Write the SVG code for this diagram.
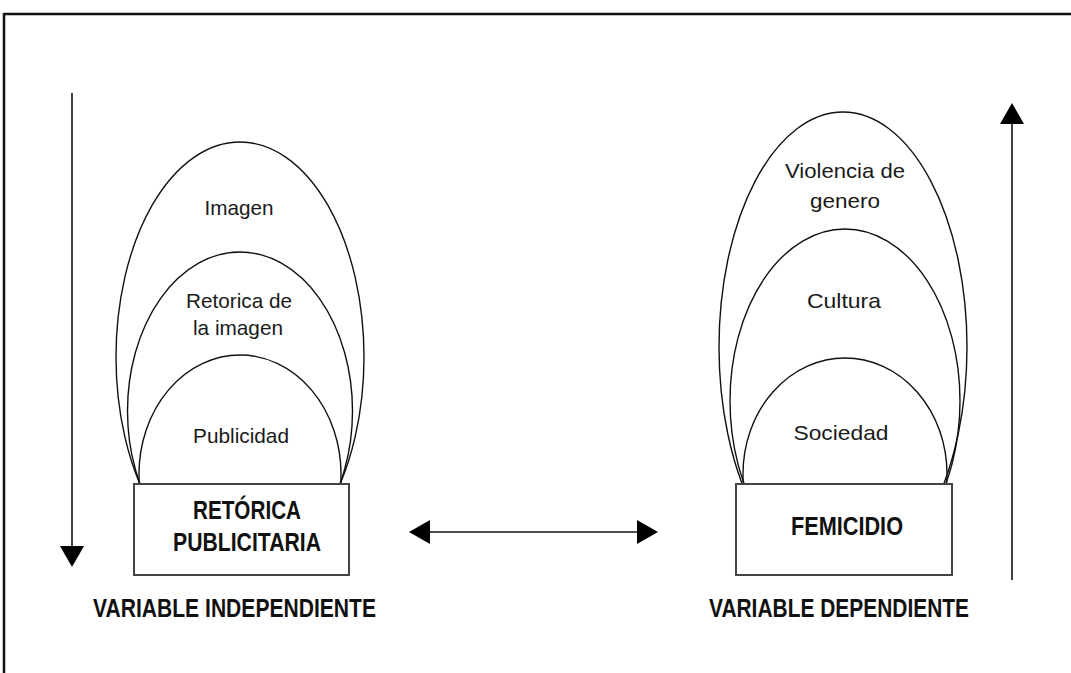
<svg xmlns="http://www.w3.org/2000/svg" width="1071" height="673" viewBox="0 0 1071 673">
<style>
.frame{fill:none;stroke:#111;stroke-width:2.5}
.arch{fill:none;stroke:#111;stroke-width:1.4}
.box{fill:#fff;stroke:#444;stroke-width:2}
.lbl{font-family:"Liberation Sans",Arial,sans-serif;font-size:21px;fill:#1a1a1a;text-anchor:middle}
.bold{font-family:"Liberation Sans",Arial,sans-serif;font-size:26px;font-weight:bold;fill:#111;text-anchor:middle}
.conn{fill:none;stroke:#111;stroke-width:1.6}
</style>
<defs>
<clipPath id="clipTop"><rect x="0" y="0" width="1071" height="484"/></clipPath>
<marker id="tri" viewBox="0 0 21 24" refX="0" refY="12" markerWidth="21" markerHeight="24" markerUnits="userSpaceOnUse" orient="auto-start-reverse">
<path d="M0,0 L21,12 L0,24 Z" fill="#000"/>
</marker>
</defs>
<rect width="1071" height="673" fill="#fff"/>
<g id="frame">
<line class="frame" x1="4" y1="14" x2="1071" y2="14"/>
<line class="frame" x1="4" y1="13" x2="4" y2="673"/>
</g>
<g id="connectors">
<line class="conn" x1="72" y1="93" x2="72" y2="546" marker-end="url(#tri)"/>
<line class="conn" x1="1012" y1="580" x2="1012" y2="124" marker-end="url(#tri)"/>
<line class="conn" x1="430" y1="532" x2="637" y2="532" marker-start="url(#tri)" marker-end="url(#tri)"/>
</g>
<g id="imagen">
<ellipse class="arch" cx="240" cy="357" rx="124" ry="215" clip-path="url(#clipTop)"/>
<text class="lbl" x="239" y="215" textLength="69" lengthAdjust="spacingAndGlyphs">Imagen</text>
</g>
<g id="retorica-imagen">
<ellipse class="arch" cx="240" cy="411" rx="112.5" ry="159" clip-path="url(#clipTop)"/>
<text class="lbl" x="239" y="308" textLength="106" lengthAdjust="spacingAndGlyphs">Retorica de</text>
<text class="lbl" x="238" y="335" textLength="90" lengthAdjust="spacingAndGlyphs">la imagen</text>
</g>
<g id="publicidad">
<ellipse class="arch" cx="240" cy="474" rx="101" ry="119" clip-path="url(#clipTop)"/>
<text class="lbl" x="241" y="443" textLength="96" lengthAdjust="spacingAndGlyphs">Publicidad</text>
</g>
<g id="retorica-publicitaria">
<rect class="box" x="134" y="484" width="215" height="91"/>
<text class="bold" x="247" y="519" textLength="108" lengthAdjust="spacingAndGlyphs">RETÓRICA</text>
<text class="bold" x="247" y="551" textLength="148" lengthAdjust="spacingAndGlyphs">PUBLICITARIA</text>
</g>
<g id="variable-independiente">
<text class="bold" x="234.5" y="617" textLength="283" lengthAdjust="spacingAndGlyphs">VARIABLE INDEPENDIENTE</text>
</g>
<g id="violencia-genero">
<ellipse class="arch" cx="843" cy="347" rx="124" ry="235" clip-path="url(#clipTop)"/>
<text class="lbl" x="845" y="178" textLength="120" lengthAdjust="spacingAndGlyphs">Violencia de</text>
<text class="lbl" x="845" y="208" textLength="70" lengthAdjust="spacingAndGlyphs">genero</text>
</g>
<g id="cultura">
<ellipse class="arch" cx="845" cy="401" rx="115" ry="172" clip-path="url(#clipTop)"/>
<text class="lbl" x="844" y="308" textLength="74" lengthAdjust="spacingAndGlyphs">Cultura</text>
</g>
<g id="sociedad">
<ellipse class="arch" cx="845" cy="474" rx="102" ry="116" clip-path="url(#clipTop)"/>
<text class="lbl" x="841" y="440" textLength="95" lengthAdjust="spacingAndGlyphs">Sociedad</text>
</g>
<g id="femicidio">
<rect class="box" x="736" y="484" width="216" height="91"/>
<text class="bold" x="847" y="535" textLength="112" lengthAdjust="spacingAndGlyphs">FEMICIDIO</text>
</g>
<g id="variable-dependiente">
<text class="bold" x="839" y="617" textLength="260" lengthAdjust="spacingAndGlyphs">VARIABLE DEPENDIENTE</text>
</g>
</svg>
